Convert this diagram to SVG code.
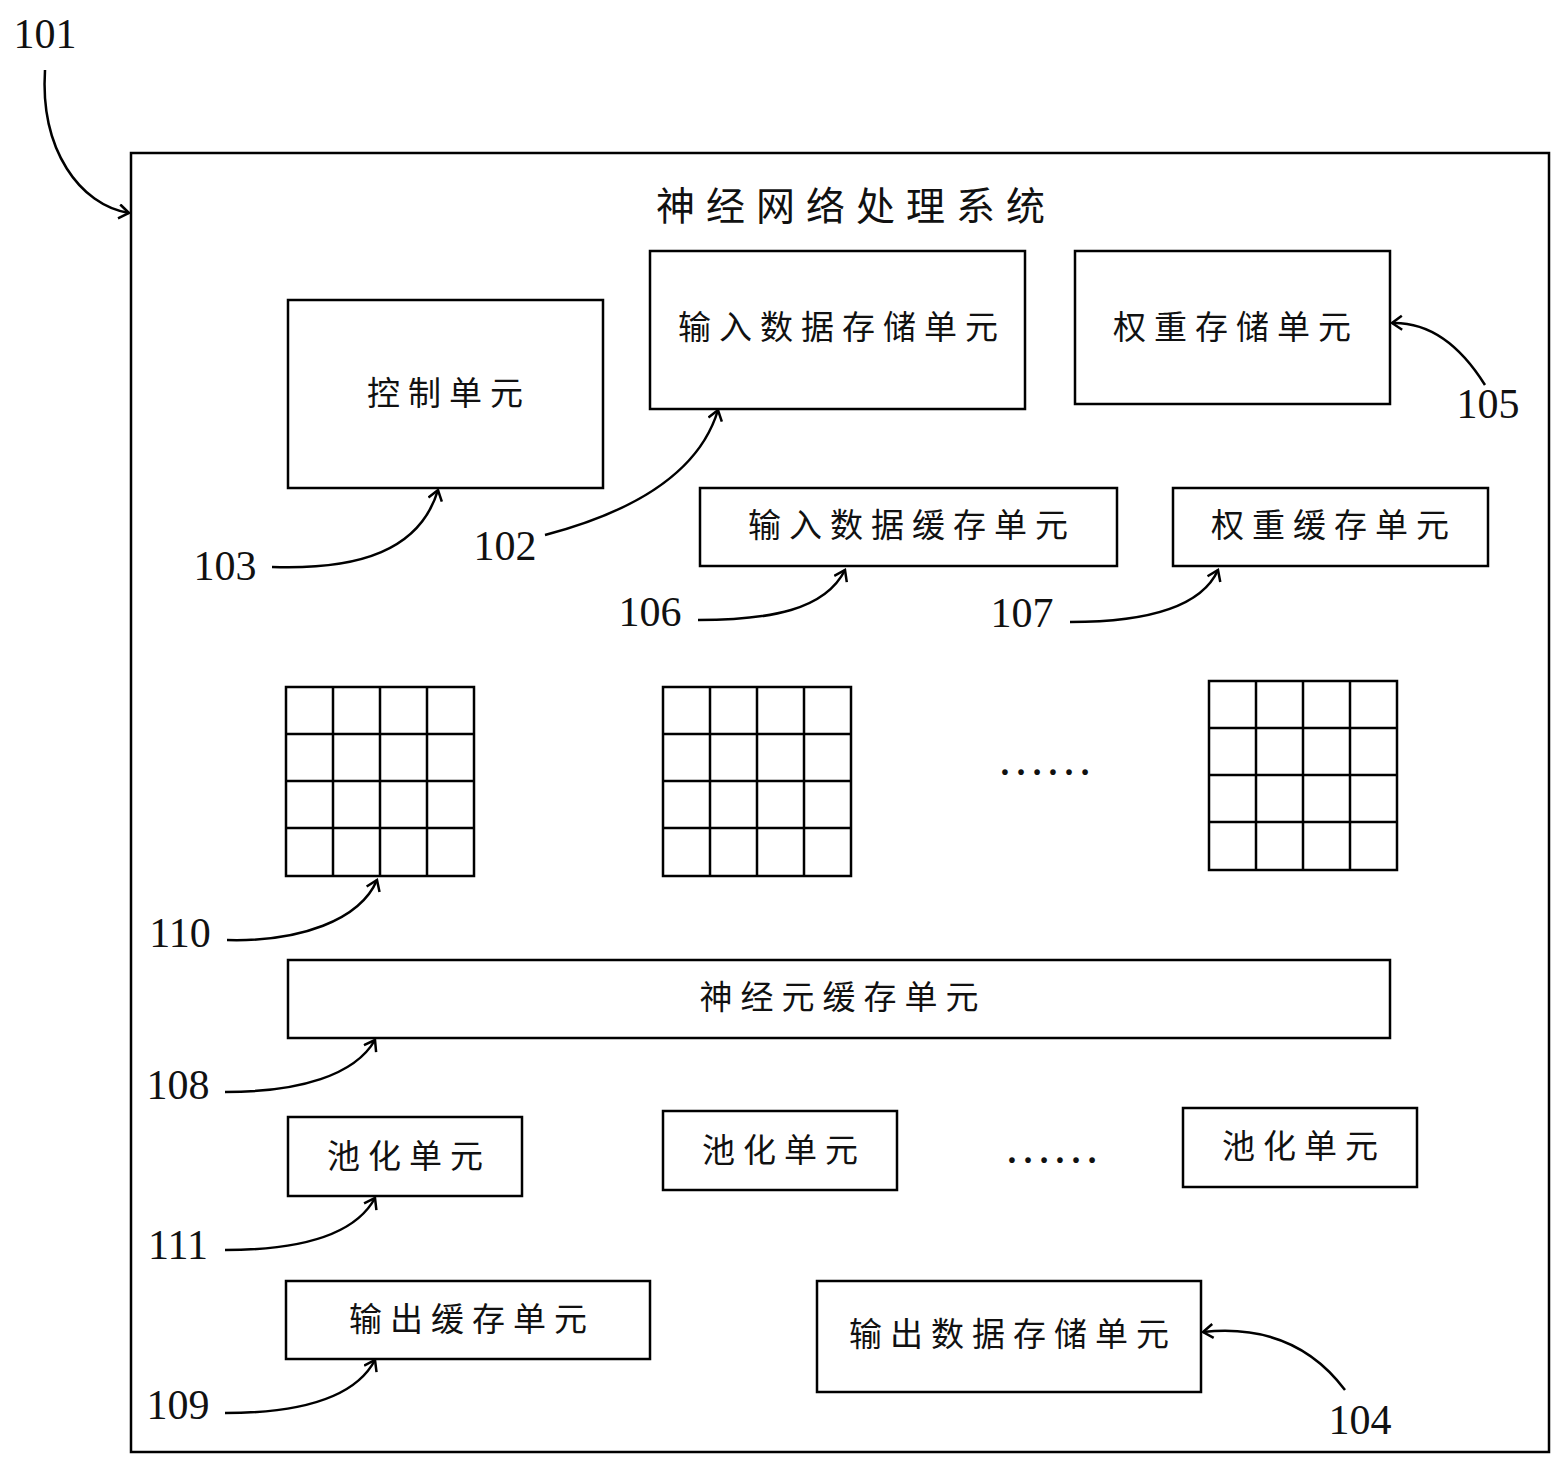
<svg xmlns="http://www.w3.org/2000/svg" width="1563" height="1467" viewBox="0 0 1563 1467">
<style>
.b{fill:none;stroke:#000;stroke-width:2.5}
.t{font-family:"Noto Sans CJK SC",sans-serif;font-size:33px;letter-spacing:8px;text-anchor:middle;fill:#111}
.n{font-family:"Liberation Serif",serif;font-size:42px;text-anchor:middle;fill:#111}
.c{fill:none;stroke:#000;stroke-width:2.5;marker-end:url(#a)}
.g{fill:none;stroke:#000;stroke-width:2.5}
</style>
<defs>
<marker id="a" markerWidth="20" markerHeight="20" refX="12" refY="8" orient="auto" markerUnits="userSpaceOnUse">
<path d="M2,1 L12,8 L2,15" fill="none" stroke="#000" stroke-width="2.5"/>
</marker>
<g id="grid">
<rect x="0" y="0" width="188" height="189" class="g"/>
<path class="g" d="M47,0V189M94,0V189M141,0V189M0,47H188M0,94H188M0,141H188"/>
</g>
</defs>
<rect width="1563" height="1467" fill="#fff"/>
<g id="system"><rect x="131" y="153" width="1418" height="1299" class="b"/>
<text x="856" y="220" class="t" style="font-size:39px;letter-spacing:11px">神经网络处理系统</text></g>
<g id="n103"><rect x="288" y="300" width="315" height="188" class="b"/><text x="449" y="405" class="t">控制单元</text></g>
<g id="n102"><rect x="650" y="251" width="375" height="158" class="b"/><text x="842" y="339" class="t">输入数据存储单元</text></g>
<g id="n105"><rect x="1075" y="251" width="315" height="153" class="b"/><text x="1236" y="339" class="t">权重存储单元</text></g>
<g id="n106"><rect x="700" y="488" width="417" height="78" class="b"/><text x="912" y="537" class="t">输入数据缓存单元</text></g>
<g id="n107"><rect x="1173" y="488" width="315" height="78" class="b"/><text x="1334" y="537" class="t">权重缓存单元</text></g>
<g id="n110"><use href="#grid" x="286" y="687"/><use href="#grid" x="663" y="687"/><use href="#grid" x="1209" y="681"/>
<text x="1045" y="775" class="n" style="font-size:48px">……</text></g>
<g id="n108"><rect x="288" y="960" width="1102" height="78" class="b"/><text x="843" y="1009" class="t">神经元缓存单元</text></g>
<g id="n111"><rect x="288" y="1117" width="234" height="79" class="b"/><text x="409" y="1168" class="t">池化单元</text>
<rect x="663" y="1111" width="234" height="79" class="b"/><text x="784" y="1162" class="t">池化单元</text>
<rect x="1183" y="1108" width="234" height="79" class="b"/><text x="1304" y="1158" class="t">池化单元</text>
<text x="1052" y="1163" class="n" style="font-size:48px">……</text></g>
<g id="n109"><rect x="286" y="1281" width="364" height="78" class="b"/><text x="472" y="1331" class="t">输出缓存单元</text></g>
<g id="n104"><rect x="817" y="1281" width="384" height="111" class="b"/><text x="1013" y="1346" class="t">输出数据存储单元</text></g>
<g id="labels">
<text x="45" y="48" class="n">101</text>
<text x="225" y="580" class="n">103</text>
<text x="505" y="560" class="n">102</text>
<text x="1488" y="418" class="n">105</text>
<text x="650" y="626" class="n">106</text>
<text x="1022" y="627" class="n">107</text>
<text x="180" y="947" class="n">110</text>
<text x="178" y="1099" class="n">108</text>
<text x="178" y="1259" class="n">111</text>
<text x="178" y="1419" class="n">109</text>
<text x="1360" y="1434" class="n">104</text>
</g>
<g id="connectors">
<path class="c" d="M45,70 C40,150 80,205 129,213"/>
<path class="c" d="M272,567 C360,570 420,550 438,490"/>
<path class="c" d="M545,535 C640,510 700,470 718,410"/>
<path class="c" d="M1485,385 C1460,345 1430,322 1392,323"/>
<path class="c" d="M698,620 C770,620 825,610 845,570"/>
<path class="c" d="M1070,622 C1140,622 1200,610 1218,570"/>
<path class="c" d="M227,940 C300,942 360,920 377,880"/>
<path class="c" d="M225,1092 C300,1092 355,1075 375,1040"/>
<path class="c" d="M225,1250 C300,1250 355,1235 375,1198"/>
<path class="c" d="M225,1413 C300,1413 355,1398 375,1360"/>
<path class="c" d="M1345,1390 C1315,1350 1270,1325 1203,1332"/>
</g>
</svg>
